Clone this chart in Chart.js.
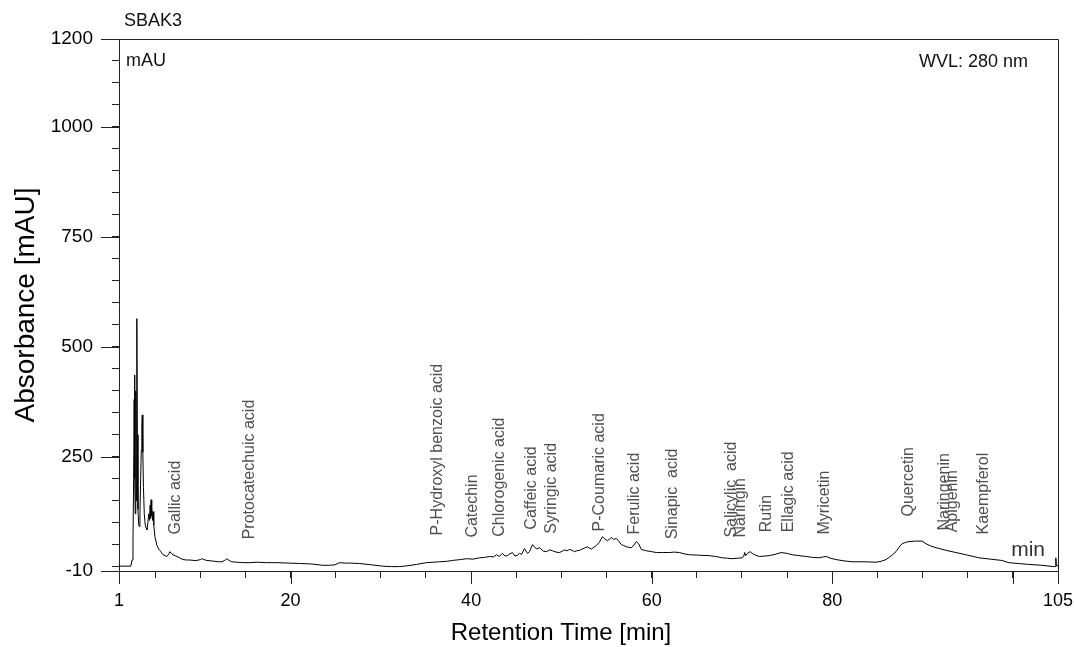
<!DOCTYPE html>
<html>
<head>
<meta charset="utf-8">
<title>SBAK3 chromatogram</title>
<script src="https://cdn.jsdelivr.net/npm/chart.js@4.4.1/dist/chart.umd.min.js"></script>
<style>
  html, body { margin: 0; padding: 0; background: #fff; }
  canvas { display: block; }
</style>
</head>
<body>
<canvas id="chrom" width="1074" height="647"></canvas>
<script>
// Retention time (min) and absorbance (mAU)
const retentionTimes = [
  1.0, 2.3, 2.45, 2.55, 2.62, 2.68, 2.72, 2.76, 2.8, 2.84, 2.88, 2.92, 2.96, 2.99, 3.03, 3.1,
  3.18, 3.25, 3.32, 3.4, 3.47, 3.53, 3.58, 3.64, 3.71, 3.8, 3.9, 4.0, 4.1, 4.2, 4.3, 4.38,
  4.45, 4.5, 4.55, 4.6, 4.65, 4.72, 4.78, 4.85, 4.98, 5.2, 5.4, 5.6, 5.87, 6.1, 6.31, 6.5,
  6.64, 6.8, 6.97, 7.2, 7.42, 7.7, 8.08, 8.5, 8.85, 9.3, 9.63, 10.0, 10.18, 10.4, 10.73, 11.2,
  11.62, 12.0, 12.39, 12.7, 12.95, 13.2, 13.5, 14.1, 14.72, 15.5, 16.27, 17.3, 18.48, 19.8, 21.02, 22.3,
  23.57, 24.3, 24.89, 25.45, 26.0, 26.55, 27.66, 29.0, 30.2, 31.2, 32.08, 33.0, 33.96, 35.07, 35.8, 36.51,
  37.3, 37.95, 38.8, 39.5, 40.2, 40.93, 41.5, 42.04, 42.5, 42.81, 43.1, 43.48, 43.75, 44.03, 44.3, 44.58,
  44.85, 45.14, 45.36, 45.6, 45.91, 46.24, 46.46, 46.8, 47.02, 47.24, 47.57, 48.01, 48.35, 48.7, 49.01, 49.4,
  49.78, 50.1, 50.34, 50.6, 50.89, 51.2, 51.44, 51.7, 52.0, 52.3, 52.55, 52.88, 53.1, 53.32, 53.6, 53.88,
  54.2, 54.54, 54.8, 55.09, 55.3, 55.54, 55.8, 56.09, 56.35, 56.64, 56.9, 57.19, 57.45, 57.75, 58.0, 58.3,
  58.55, 58.85, 59.4, 60.0, 60.51, 61.2, 61.95, 62.5, 63.06, 63.6, 64.16, 65.2, 66.37, 67.1, 67.81, 68.4,
  68.92, 69.5, 70.03, 70.2, 70.3, 70.4, 70.6, 70.9, 71.13, 71.5, 71.91, 72.5, 73.01, 73.7, 74.34, 75.0,
  75.56, 76.3, 77.11, 77.8, 78.54, 79.0, 79.32, 79.8, 80.42, 81.3, 82.19, 83.5, 84.85, 85.4, 85.96, 86.62,
  87.06, 87.4, 87.73, 88.1, 88.5, 89.2, 89.94, 90.38, 90.9, 91.49, 92.6, 93.7, 95.0, 96.24, 97.5, 98.79,
  99.56, 100.6, 101.77, 103.2, 104.54, 104.7, 104.76, 104.82, 105.0
];
const absorbance = [
  1, 1, 15, 60, 200, 380, 436, 200, 120, 300, 400, 150, 380, 564, 300, 130,
  95, 91, 120, 200, 265, 320, 345, 260, 180, 120, 95, 88, 84, 100, 120, 105,
  140, 110, 152, 115, 135, 105, 125, 95, 68, 48, 40, 35, 27, 25, 23, 28,
  34, 30, 27, 25, 23, 20, 16, 15, 15, 14, 14, 16, 18, 16, 14, 13,
  12, 11, 11, 14, 18, 14, 11, 10, 9, 9, 10, 9, 9, 8, 7, 6,
  3, 3, 4, 9, 8, 8, 7, 4, 1, 0, 0, 2, 5, 9, 10, 11,
  12, 14, 16, 18, 17, 20, 21, 23, 22, 27, 23, 30, 24, 25, 29, 32,
  24, 26, 30, 28, 41, 30, 34, 50, 45, 40, 43, 35, 34, 38, 36, 33,
  32, 35, 38, 36, 39, 37, 34, 36, 37, 40, 42, 45, 42, 40, 44, 48,
  55, 68, 63, 59, 62, 66, 62, 64, 58, 50, 48, 45, 44, 43, 48, 57,
  52, 39, 36, 34, 32, 32, 32, 33, 32, 29, 27, 26, 25, 23, 20, 19,
  18, 19, 20, 24, 32, 25, 30, 34, 30, 26, 23, 24, 25, 28, 32, 30,
  27, 25, 23, 21, 20, 22, 23, 19, 16, 13, 11, 11, 10, 12, 16, 26,
  34, 44, 52, 55, 57, 58, 58, 52, 47, 43, 37, 32, 26, 20, 17, 14,
  9, 7, 5, 3, 0, 0, 20, 2, 2
];

// Peak annotations: compound, retention time, and the mAU level where the label starts
const compounds = [
  'Gallic acid', 'Protocatechuic acid', 'P-Hydroxyl benzoic acid', 'Catechin', 'Chlorogenic acid',
  'Caffeic acid', 'Syringic acid', 'P-Coumaric acid', 'Ferulic acid', 'Sinapic  acid',
  'Salicylic  acid', 'Naringin', 'Rutin', 'Ellagic acid', 'Myricetin',
  'Quercetin', 'Naringenin', 'Apigenin', 'Kaempferol'
];
const compoundTimes = [
  7.3, 15.5, 36.3, 40.2, 43.1,
  46.7, 48.9, 54.2, 58.1, 62.3,
  68.8, 69.9, 72.7, 75.2, 79.1,
  88.5, 92.4, 93.3, 96.8
];
const compoundBase = [
  73, 62, 71, 66, 68,
  84, 75, 80, 73, 62,
  66, 66, 78, 78, 73,
  114, 82, 78, 73
];

// Axis ticks
const xTickValues = [1, 5, 10, 15, 20, 25, 30, 35, 40, 45, 50, 55, 60, 65, 70, 75, 80, 85, 90, 95, 100, 105];
const xLabelValues = [1, 20, 40, 60, 80, 105];
const xMajorValues = [1, 20, 40, 60, 80, 100, 105];
const yTickValues = [-10, 0, 50, 100, 150, 200, 250, 300, 350, 400, 450, 500, 550, 600, 650, 700,
  750, 800, 850, 900, 950, 1000, 1050, 1100, 1150, 1200];
const yLabelValues = [-10, 250, 500, 750, 1000, 1200];

const FONT = '"Liberation Sans", Arial, sans-serif';
const AXIS_COLOR = '#222';

// Frame, long major ticks and text annotations
const decorPlugin = {
  id: 'decor',
  afterDraw(chart) {
    const ctx = chart.ctx;
    const area = chart.chartArea;
    const xs = chart.scales.x;
    const ys = chart.scales.y;
    ctx.save();
    ctx.strokeStyle = AXIS_COLOR;
    ctx.lineWidth = 1;

    // top and right border
    ctx.beginPath();
    ctx.moveTo(area.left, area.top + 0.5);
    ctx.lineTo(area.right + 0.5, area.top + 0.5);
    ctx.lineTo(area.right + 0.5, area.bottom);
    ctx.stroke();

    // longer marks on major ticks
    ctx.beginPath();
    xMajorValues.forEach(v => {
      const px = Math.round(xs.getPixelForValue(v)) + 0.5;
      ctx.moveTo(px, area.bottom);
      ctx.lineTo(px, area.bottom + 13);
    });
    yLabelValues.forEach(v => {
      const py = Math.round(ys.getPixelForValue(v)) + 0.5;
      ctx.moveTo(area.left, py);
      ctx.lineTo(area.left - 18, py);
    });
    ctx.stroke();

    // compound labels, rotated
    ctx.fillStyle = '#505050';
    ctx.font = '16px ' + FONT;
    ctx.textAlign = 'left';
    ctx.textBaseline = 'middle';
    compounds.forEach((name, i) => {
      const px = xs.getPixelForValue(compoundTimes[i]);
      const py = ys.getPixelForValue(compoundBase[i]);
      ctx.save();
      ctx.translate(px, py);
      ctx.rotate(-Math.PI / 2);
      ctx.fillText(name, 0, 0);
      ctx.restore();
    });

    // header texts
    ctx.fillStyle = '#111';
    ctx.font = '18px ' + FONT;
    ctx.textBaseline = 'middle';
    ctx.fillText('SBAK3', area.left + 5, 21);
    ctx.fillText('mAU', area.left + 7, 61);
    ctx.textAlign = 'right';
    ctx.fillText('WVL: 280 nm', area.right - 30, 62);
    ctx.fillStyle = '#333';
    ctx.font = '21px ' + FONT;
    ctx.fillText('min', area.right - 13, 550);

    // x axis title (sits left of centre in the original)
    ctx.fillStyle = '#000';
    ctx.font = '24px ' + FONT;
    ctx.textAlign = 'center';
    ctx.fillText('Retention Time [min]', 561, 633);
    ctx.restore();
  }
};

const ctx = document.getElementById('chrom').getContext('2d');
new Chart(ctx, {
  type: 'line',
  data: {
    datasets: [{
      data: retentionTimes.map((t, i) => ({ x: t, y: absorbance[i] })),
      borderColor: '#000',
      borderWidth: 1,
      pointRadius: 0,
      tension: 0,
      fill: false
    }]
  },
  options: {
    responsive: false,
    animation: false,
    devicePixelRatio: 1,
    layout: { padding: { top: 39, right: 0, bottom: 0, left: 0 } },
    plugins: {
      legend: { display: false },
      tooltip: { enabled: false }
    },
    scales: {
      x: {
        type: 'linear',
        min: 1,
        max: 105,
        afterBuildTicks: scale => { scale.ticks = xTickValues.map(v => ({ value: v })); },
        afterFit: scale => {
          scale.height = 76;
          scale.paddingLeft = 0;
          scale.paddingRight = 16;
        },
        ticks: {
          autoSkip: false,
          maxRotation: 0,
          padding: 12,
          color: '#000',
          font: { family: FONT, size: 18 },
          callback: v => xLabelValues.includes(v) ? String(v) : ''
        },
        grid: { drawOnChartArea: false, tickLength: 7, color: AXIS_COLOR },
        border: { color: AXIS_COLOR }
      },
      y: {
        min: -10,
        max: 1200,
        afterBuildTicks: scale => { scale.ticks = yTickValues.map(v => ({ value: v })); },
        afterFit: scale => { scale.width = 119; },
        ticks: {
          autoSkip: false,
          padding: 19,
          color: '#000',
          font: { family: FONT, size: 19 },
          callback: v => yLabelValues.includes(v) ? String(v) : ''
        },
        grid: { drawOnChartArea: false, tickLength: 7, color: AXIS_COLOR },
        border: { color: AXIS_COLOR },
        title: {
          display: true,
          text: 'Absorbance [mAU]',
          color: '#000',
          font: { family: FONT, size: 28 },
          padding: { top: 9, bottom: 0 }
        }
      }
    }
  },
  plugins: [decorPlugin]
});
</script>
</body>
</html>
